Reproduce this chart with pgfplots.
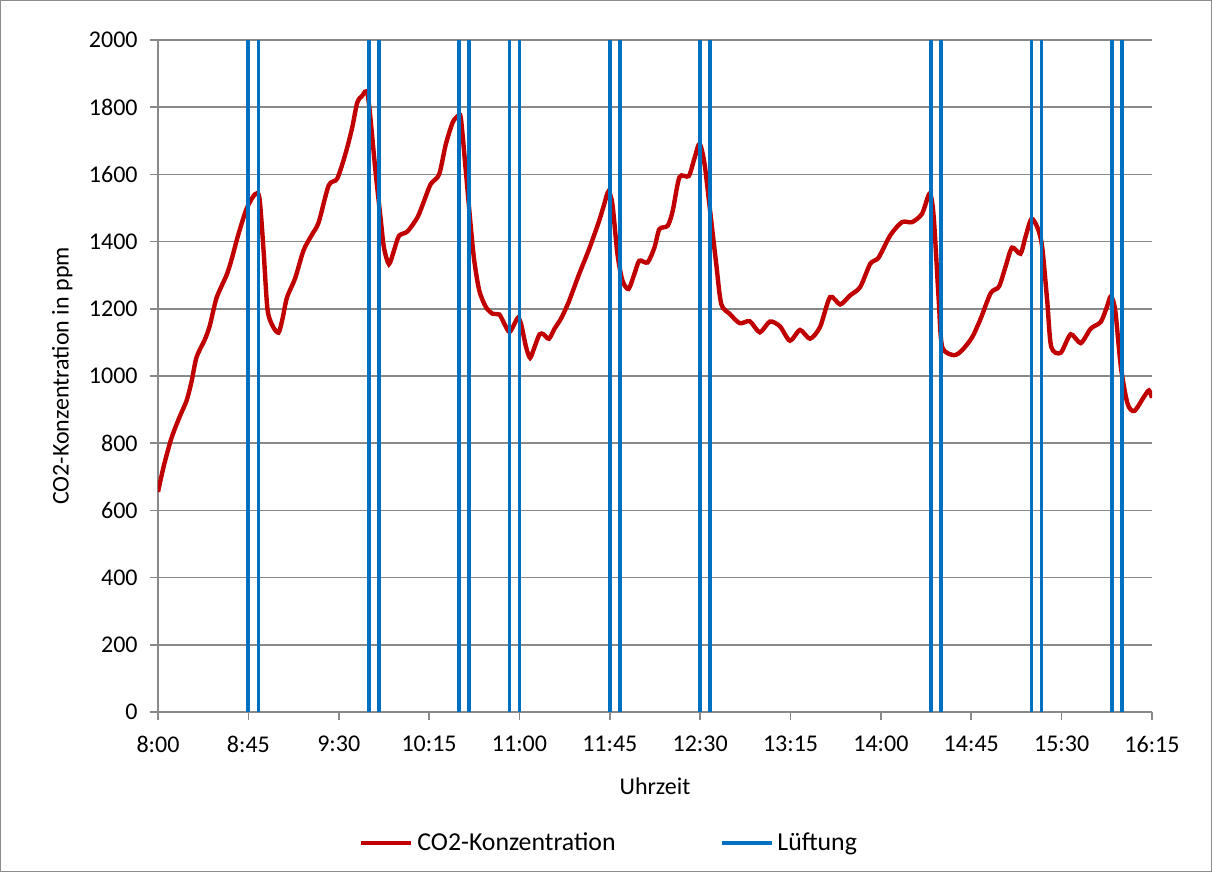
\documentclass[border=0pt]{standalone}
\usepackage{pgfplots}
\pgfplotsset{compat=1.18}
\usepackage{fontspec}
\setmainfont{Carlito}

\definecolor{co2red}{HTML}{C00000}
\definecolor{ventblue}{HTML}{0070C0}
\definecolor{gridgray}{HTML}{898989}
\definecolor{framegray}{HTML}{8C8C8C}

\begin{document}
\fontsize{12}{14.4}\selectfont
\begin{tikzpicture}
\begin{axis}[
  at={(0pt,0pt)}, anchor=south west,
  scale only axis,
  width=497pt, height=336pt,
  xmin=0, xmax=495, ymin=0, ymax=2000,
  xtick={0,45,...,495},
  xticklabels={8:00,8:45,9:30,10:15,11:00,11:45,12:30,13:15,14:00,14:45,15:30,16:15},
  ytick={0,200,...,2000},
  /pgf/number format/assume math mode=true,
  /pgf/number format/1000 sep={},
  axis lines*=left,
  axis line style={draw=gridgray, line width=0.8pt, -},
  ymajorgrids,
  grid style={draw=gridgray, line width=0.8pt},
  tick align=outside,
  major tick length=4pt,
  tick style={draw=gridgray, line width=0.8pt},
  tick label style={font=\fontsize{12}{14.4}\selectfont},
  xticklabel style={yshift=-4pt},
  yticklabel style={xshift=-2pt},
  label style={font=\fontsize{12}{14.4}\selectfont},
  xlabel={Uhrzeit},
  ylabel={CO2-Konzentration in ppm},
  xlabel style={yshift=-4pt},
  ylabel style={yshift=0pt},
  legend style={
    draw=none, fill=none,
    at={(226pt,-65.5pt)}, anchor=center,
    legend columns=2,
    font=\fontsize{12.9}{15.5}\selectfont,
    /tikz/every even column/.append style={column sep=50pt},
  },
  legend cell align=left,
  unbounded coords=jump,
]
% CO2 concentration, minutes after 8:00
\addplot[co2red, line width=2.2pt, smooth, tension=0.45,
  legend image code/.code={\draw[co2red, line width=2.2pt] (0pt,0pt) -- (25pt,0pt);}]
  coordinates {
  (0,655) (3,735) (6.7,815) (10.8,879) (14.2,926) (16.7,983) (19.2,1056)
  (23.3,1108) (25.8,1150) (29.2,1233) (34.2,1301) (36.7,1348) (40,1421)
  (44.2,1499) (48.3,1541) (50.5,1530) (52.5,1380) (54.5,1200) (57,1150)
  (60,1129) (62,1170) (64.2,1233) (68.3,1291) (72.5,1374) (76.7,1421)
  (80,1457) (85,1567) (89.2,1587) (93.3,1660) (96.7,1739) (99.2,1813)
  (101.7,1834) (104.5,1835) (108.3,1610) (110.8,1472) (112.5,1383) (115,1333)
  (117.5,1373) (120,1417) (124.2,1430) (129.2,1472) (132.5,1521) (135.8,1571)
  (140,1600) (143.3,1689) (146.7,1754) (149.2,1773) (150.8,1768) (153.3,1610)
  (155.8,1442) (157.5,1343) (160,1254) (163.3,1205) (166.7,1185) (170,1183)
  (172.5,1155) (175,1131) (177.5,1155) (179.2,1173) (180.8,1155) (183.3,1086)
  (185.3,1054) (187.5,1086) (190,1124) (192,1124) (194.7,1111) (197.5,1141)
  (200.8,1172) (204.5,1220) (209.7,1303) (214.7,1378) (219.7,1462) (222.2,1511)
  (224.3,1549) (226.3,1511) (228.8,1363) (231.3,1284) (234.3,1259) (237.2,1303)
  (239.7,1343) (243.8,1338) (247.2,1382) (249.7,1437) (253.8,1447) (256.3,1491)
  (259.7,1592) (264.3,1595) (267.2,1649) (269.7,1691) (272.2,1630) (275.5,1462)
  (278,1333) (280.5,1214) (284.7,1185) (289.7,1157) (294.7,1163) (299.7,1130)
  (304.7,1162) (309.7,1148) (314.7,1105) (319.7,1137) (324.7,1111) (329.7,1146)
  (334.7,1235) (339.7,1213) (344.7,1240) (349.7,1265) (354.7,1334) (358.8,1352)
  (364.7,1419) (370.5,1458) (375.5,1458) (380.5,1483) (384.3,1543) (386.3,1473)
  (388.8,1225) (390.5,1087) (396.3,1062) (400.5,1077) (405.5,1116) (409.7,1171)
  (414.7,1247) (418.8,1266) (422,1324) (425.3,1382) (429.5,1364) (432,1414)
  (435,1468) (438.2,1438) (440.3,1384) (442.8,1225) (444.8,1087) (449.5,1069)
  (454.5,1124) (459.5,1098) (464.5,1141) (469.5,1161) (472.5,1205) (474.5,1237)
  (476.7,1195) (479.5,1027) (482.8,918) (486.2,896) (491.2,940) (493.5,957)
  (495,935)
  };
\addlegendentry{CO2-Konzentration}
% ventilation periods: window opened / closed
\addplot[ventblue, line width=1.9pt,
  legend image code/.code={\draw[ventblue, line width=1.9pt] (0pt,0pt) -- (25pt,0pt);}]
  coordinates {
  (45,0) (45,2000) (46,nan) (50,0) (50,2000) (51,nan)
  (105,0) (105,2000) (106,nan) (110,0) (110,2000) (111,nan)
  (150,0) (150,2000) (151,nan) (155,0) (155,2000) (156,nan)
  (175,0) (175,2000) (176,nan) (180,0) (180,2000) (181,nan)
  (225,0) (225,2000) (226,nan) (230,0) (230,2000) (231,nan)
  (270,0) (270,2000) (271,nan) (275,0) (275,2000) (276,nan)
  (385,0) (385,2000) (386,nan) (390,0) (390,2000) (391,nan)
  (435,0) (435,2000) (436,nan) (440,0) (440,2000) (441,nan)
  (475,0) (475,2000) (476,nan) (480,0) (480,2000)
  };
\addlegendentry{Lüftung}
\end{axis}
% chart frame
\draw[framegray, line width=0.6pt] (-78.7pt,-79.7pt) rectangle (526.7pt,355.7pt);
\end{tikzpicture}
\end{document}
